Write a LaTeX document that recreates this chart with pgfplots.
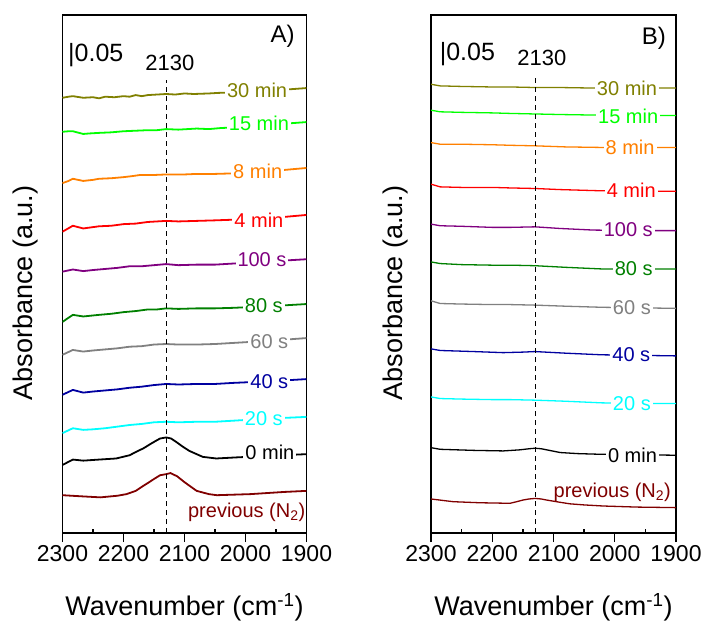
\documentclass[border=0pt]{standalone}
\usepackage{pgfplots}
\pgfplotsset{compat=1.18}
\usepackage{fontspec}
\setmainfont{Liberation Sans}
\definecolor{cOlive}{RGB}{128,128,0}
\definecolor{cLime}{RGB}{0,255,0}
\definecolor{cOrange}{RGB}{255,128,0}
\definecolor{cRed}{RGB}{255,0,0}
\definecolor{cPurple}{RGB}{128,0,128}
\definecolor{cGreen}{RGB}{0,128,0}
\definecolor{cGray}{RGB}{128,128,128}
\definecolor{cNavy}{RGB}{0,0,160}
\definecolor{cCyan}{RGB}{0,255,255}
\definecolor{cWine}{RGB}{128,0,0}
\tikzset{lab/.style={fill=white, inner xsep=2pt, inner ysep=1pt, font=\fontsize{20}{24}\selectfont}}
\pgfplotsset{
  spec/.style={scale only axis, height=518pt, xmin=1900, xmax=2300, x dir=reverse,
    ymin=0, ymax=0.9593, xtick={1900,2000,...,2300}, ytick=\empty,
    extra x ticks={2250,2150,2050,1950}, extra x tick labels={},
    extra x tick style={tick align=inside, major tick length=4pt},
    tick align=outside, xtick pos=bottom, major tick length=9pt,
    axis line style={line width=1.3pt}, every tick/.style={line width=1.3pt, black},
    tick label style={font=\fontsize{23}{28}\selectfont},
    /pgf/number format/assume math mode=true, /pgf/number format/set thousands separator={},
    every axis plot/.append style={no marks, line join=round}},
}
\begin{document}
\begin{tikzpicture}[x=1pt,y=1pt]
\useasboundingbox (0pt,0pt) rectangle (710pt,630pt);
% ---------------- Panel A ----------------
\begin{axis}[spec, at={(62.5pt,97pt)}, anchor=south west, width=244pt]
\addplot[cOlive, line width=1.8pt] coordinates {(2300,0.806)(2290,0.808)(2283,0.809)(2266,0.806)(2250,0.807)(2240,0.805)(2230,0.808)(2215,0.807)(2200,0.809)(2190,0.808)(2180,0.811)(2170,0.809)(2160,0.811)(2145,0.812)(2130,0.813)(2115,0.812)(2100,0.814)(2085,0.813)(2060,0.814)(2045,0.815)(2020,0.816)(1960,0.819)(1900,0.824)};
\addplot[cLime, line width=1.8pt] coordinates {(2300,0.743)(2290,0.744)(2283,0.744)(2266,0.739)(2255,0.740)(2240,0.741)(2220,0.742)(2200,0.744)(2180,0.745)(2160,0.746)(2145,0.746)(2130,0.748)(2110,0.747)(2080,0.749)(2060,0.748)(2040,0.750)(2020,0.751)(1960,0.756)(1900,0.761)};
\addplot[cOrange, line width=1.8pt] coordinates {(2300,0.648)(2290,0.652)(2283,0.656)(2266,0.652)(2250,0.654)(2240,0.656)(2220,0.657)(2200,0.659)(2185,0.661)(2173,0.663)(2150,0.663)(2130,0.664)(2100,0.664)(2080,0.665)(2050,0.665)(2020,0.666)(1960,0.670)(1900,0.676)};
\addplot[cRed, line width=1.8pt] coordinates {(2300,0.558)(2283,0.569)(2266,0.564)(2240,0.568)(2220,0.569)(2200,0.572)(2180,0.573)(2160,0.576)(2145,0.577)(2130,0.578)(2110,0.577)(2080,0.578)(2050,0.579)(2025,0.580)(1960,0.583)(1900,0.589)};
\addplot[cPurple, line width=1.8pt] coordinates {(2300,0.484)(2283,0.488)(2266,0.485)(2250,0.487)(2230,0.489)(2210,0.491)(2190,0.494)(2170,0.494)(2150,0.496)(2130,0.498)(2110,0.496)(2080,0.497)(2050,0.497)(2020,0.499)(1960,0.503)(1900,0.507)};
\addplot[cGreen, line width=1.8pt] coordinates {(2300,0.391)(2283,0.404)(2266,0.401)(2240,0.404)(2220,0.406)(2200,0.409)(2180,0.411)(2160,0.414)(2145,0.414)(2130,0.416)(2110,0.415)(2080,0.416)(2050,0.416)(2020,0.417)(1960,0.420)(1900,0.424)};
\addplot[cGray, line width=1.8pt] coordinates {(2300,0.330)(2283,0.339)(2266,0.336)(2250,0.338)(2230,0.340)(2210,0.342)(2190,0.345)(2170,0.346)(2150,0.349)(2130,0.350)(2110,0.349)(2080,0.349)(2050,0.350)(2020,0.352)(1960,0.356)(1900,0.361)};
\addplot[cNavy, line width=1.8pt] coordinates {(2300,0.256)(2283,0.265)(2266,0.260)(2250,0.262)(2230,0.264)(2210,0.266)(2190,0.269)(2170,0.271)(2150,0.274)(2130,0.276)(2110,0.275)(2080,0.276)(2050,0.276)(2020,0.278)(1960,0.281)(1900,0.285)};
\addplot[cCyan, line width=1.8pt] coordinates {(2300,0.185)(2283,0.194)(2266,0.191)(2250,0.192)(2230,0.194)(2210,0.197)(2190,0.200)(2170,0.202)(2150,0.205)(2130,0.206)(2110,0.205)(2080,0.206)(2050,0.206)(2020,0.208)(1960,0.212)(1900,0.215)};
\addplot[black, line width=1.8pt] coordinates {(2300,0.126)(2283,0.136)(2266,0.134)(2240,0.136)(2212,0.138)(2190,0.144)(2178,0.151)(2167,0.157)(2157,0.164)(2148,0.170)(2140,0.175)(2130,0.177)(2122,0.175)(2114,0.169)(2103,0.160)(2092,0.152)(2080,0.146)(2070,0.141)(2048,0.138)(2015,0.140)(1960,0.143)(1900,0.146)};
\addplot[cWine, line width=1.8pt] coordinates {(2300,0.070)(2270,0.068)(2238,0.066)(2210,0.069)(2195,0.072)(2180,0.078)(2168,0.087)(2158,0.094)(2150,0.100)(2140,0.107)(2130,0.109)(2123,0.111)(2112,0.105)(2101,0.095)(2090,0.086)(2080,0.078)(2060,0.072)(2047,0.070)(1992,0.072)(1937,0.076)(1900,0.078)};
\addplot[black, line width=1pt, dash pattern=on 5pt off 4pt] coordinates {(2130,0)(2130,0.839)};
\node[lab, text=cOlive] at (axis cs:1981,0.819) {30 min};
\node[lab, text=cLime] at (axis cs:1978,0.759) {15 min};
\node[lab, text=cOrange] at (axis cs:1980,0.669) {8 min};
\node[lab, text=cRed] at (axis cs:1978,0.580) {4 min};
\node[lab, text=cPurple] at (axis cs:1973,0.506) {100 s};
\node[lab, text=cGreen] at (axis cs:1970,0.422) {80 s};
\node[lab, text=cGray] at (axis cs:1961,0.354) {60 s};
\node[lab, text=cNavy] at (axis cs:1961,0.280) {40 s};
\node[lab, text=cCyan] at (axis cs:1970,0.211) {20 s};
\node[lab, text=black] at (axis cs:1960,0.149) {0 min};
\node[lab, fill=none, text=cWine] at (axis cs:1998,0.039) {previous (N\textsubscript{2})};
\node[font=\fontsize{22}{26}\selectfont] at (axis cs:2124,0.871) {2130};
\node[anchor=west, inner sep=0pt, font=\fontsize{25}{30}\selectfont] at (axis cs:2291,0.885) {|0.05};
\node[font=\fontsize{24}{28}\selectfont] at (axis cs:1939,0.919) {A)};
\end{axis}
% ---------------- Panel B ----------------
\begin{axis}[spec, at={(431pt,97pt)}, anchor=south west, width=245pt]
\addplot[cOlive, line width=1.3pt] coordinates {(2300,0.831)(2285,0.828)(2250,0.827)(2200,0.826)(2170,0.826)(2130,0.825)(2090,0.825)(2035,0.824)(1960,0.824)(1900,0.824)};
\addplot[cLime, line width=1.3pt] coordinates {(2300,0.783)(2285,0.780)(2250,0.779)(2200,0.778)(2170,0.777)(2130,0.776)(2090,0.775)(2035,0.774)(1960,0.773)(1900,0.773)};
\addplot[cOrange, line width=1.3pt] coordinates {(2300,0.723)(2285,0.720)(2250,0.720)(2200,0.719)(2170,0.718)(2130,0.717)(2080,0.715)(2021,0.714)(1960,0.714)(1900,0.714)};
\addplot[cRed, line width=1.3pt] coordinates {(2300,0.646)(2285,0.641)(2250,0.640)(2200,0.640)(2170,0.639)(2130,0.638)(2090,0.636)(2030,0.634)(1960,0.633)(1900,0.633)};
\addplot[cPurple, line width=1.3pt] coordinates {(2300,0.572)(2285,0.569)(2250,0.568)(2200,0.566)(2170,0.566)(2130,0.567)(2090,0.564)(2035,0.561)(1960,0.560)(1900,0.560)};
\addplot[cGreen, line width=1.3pt] coordinates {(2300,0.502)(2285,0.499)(2250,0.497)(2200,0.496)(2170,0.496)(2130,0.495)(2080,0.492)(2021,0.489)(1960,0.489)(1900,0.489)};
\addplot[cGray, line width=1.3pt] coordinates {(2300,0.430)(2285,0.425)(2250,0.424)(2200,0.423)(2170,0.423)(2130,0.422)(2080,0.420)(2021,0.418)(1960,0.417)(1900,0.416)};
\addplot[cNavy, line width=1.3pt] coordinates {(2300,0.341)(2285,0.338)(2230,0.336)(2182,0.334)(2150,0.335)(2130,0.336)(2080,0.333)(2021,0.330)(1960,0.329)(1900,0.328)};
\addplot[cCyan, line width=1.3pt] coordinates {(2300,0.252)(2285,0.249)(2250,0.248)(2200,0.247)(2170,0.247)(2130,0.246)(2080,0.244)(2021,0.241)(1960,0.240)(1900,0.240)};
\addplot[black, line width=1.3pt] coordinates {(2300,0.158)(2285,0.155)(2230,0.153)(2182,0.152)(2155,0.154)(2140,0.156)(2130,0.157)(2120,0.156)(2111,0.154)(2089,0.149)(2060,0.147)(2030,0.146)(1960,0.145)(1900,0.144)};
\addplot[cWine, line width=1.3pt] coordinates {(2300,0.063)(2264,0.058)(2220,0.056)(2171,0.055)(2160,0.058)(2150,0.061)(2140,0.063)(2130,0.064)(2120,0.063)(2111,0.061)(2090,0.057)(2073,0.054)(2050,0.052)(2019,0.050)(1964,0.048)(1900,0.047)};
\addplot[black, line width=1pt, dash pattern=on 5pt off 4pt] coordinates {(2130,0)(2130,0.844)};
\node[lab, text=cOlive] at (axis cs:1980,0.824) {30 min};
\node[lab, text=cLime] at (axis cs:1978,0.771) {15 min};
\node[lab, text=cOrange] at (axis cs:1975,0.714) {8 min};
\node[lab, text=cRed] at (axis cs:1973,0.635) {4 min};
\node[lab, text=cPurple] at (axis cs:1978,0.561) {100 s};
\node[lab, text=cGreen] at (axis cs:1969,0.490) {80 s};
\node[lab, text=cGray] at (axis cs:1972,0.418) {60 s};
\node[lab, text=cNavy] at (axis cs:1973,0.330) {40 s};
\node[lab, text=cCyan] at (axis cs:1972,0.240) {20 s};
\node[lab, text=black] at (axis cs:1971,0.144) {0 min};
\node[lab, fill=none, text=cWine] at (axis cs:2004,0.076) {previous (N\textsubscript{2})};
\node[font=\fontsize{22}{26}\selectfont] at (axis cs:2119,0.879) {2130};
\node[anchor=west, inner sep=0pt, font=\fontsize{25}{30}\selectfont] at (axis cs:2286,0.887) {|0.05};
\node[font=\fontsize{24}{28}\selectfont] at (axis cs:1936,0.917) {B)};
\end{axis}
% axis titles
\node[rotate=90, font=\fontsize{27}{32}\selectfont] at (26pt,337pt) {Absorbance (a.u.)};
\node[rotate=90, font=\fontsize{27}{32}\selectfont] at (396pt,337pt) {Absorbance (a.u.)};
\node[font=\fontsize{27}{32}\selectfont] at (184.5pt,23pt) {Wavenumber (cm\textsuperscript{-1})};
\node[font=\fontsize{27}{32}\selectfont] at (553.5pt,23pt) {Wavenumber (cm\textsuperscript{-1})};
\end{tikzpicture}
\end{document}
